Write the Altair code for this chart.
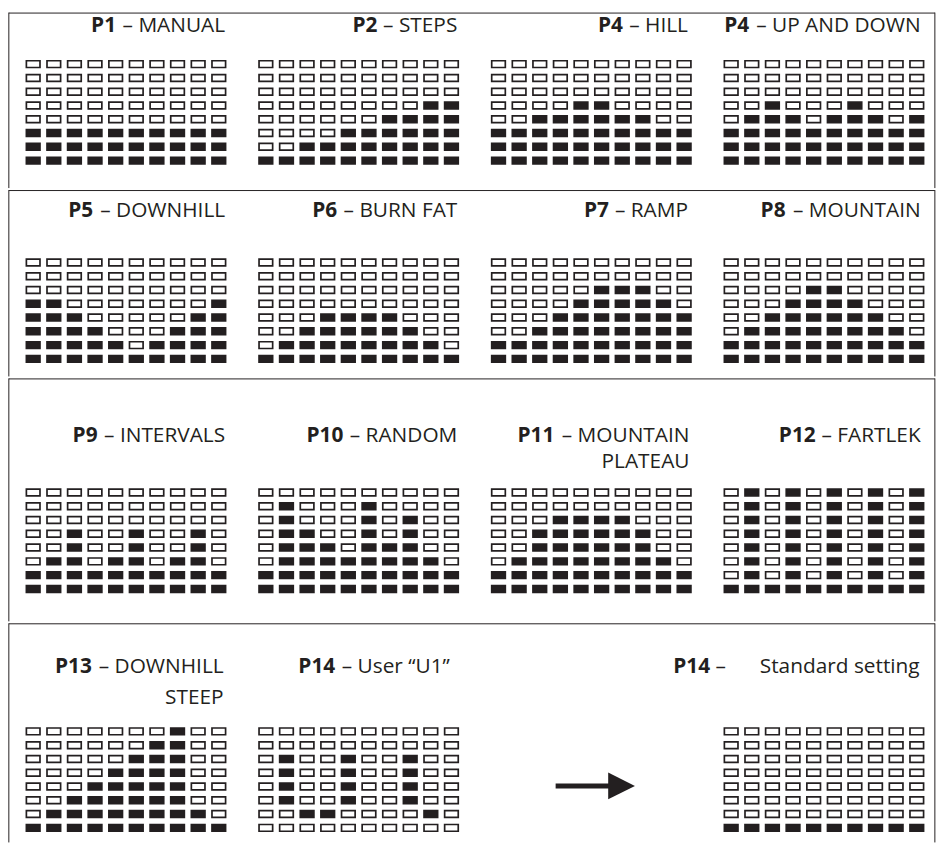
import altair as alt
import pandas as pd

INK = "#231f20"
FONT = "Open Sans"
FS = 21

# ---------------- data: filled cells per column, counted from the bottom ----------------
P1_MANUAL    = [3, 3, 3, 3, 3, 3, 3, 3, 3, 3]
P2_STEPS     = [1, 1, 2, 2, 3, 3, 4, 4, 5, 5]
P4_HILL      = [3, 3, 4, 4, 5, 5, 4, 4, 3, 3]
P4_UPDOWN    = [3, 4, 5, 4, 3, 4, 5, 4, 3, 4]
P5_DOWNHILL  = [5, 5, 4, 3, 2, 1, 2, 3, 4, 5]
P6_BURNFAT   = [1, 2, 3, 4, 4, 4, 4, 3, 2, 1]
P7_RAMP      = [2, 2, 3, 4, 5, 6, 6, 6, 5, 4]
P8_MOUNTAIN  = [2, 3, 4, 5, 6, 6, 5, 4, 3, 2]
P9_INTERVALS = [2, 3, 5, 2, 3, 5, 2, 3, 5, 2]
P10_RANDOM   = [2, 7, 5, 4, 3, 7, 4, 6, 3, 2]
P11_PLATEAU  = [2, 3, 5, 6, 6, 6, 6, 5, 3, 2]
P12_FARTLEK  = [1, 8, 1, 8, 1, 8, 1, 8, 1, 8]
P13_STEEP    = [1, 2, 3, 4, 5, 6, 7, 8, 2, 1]
P14_STANDARD = [1, 1, 1, 1, 1, 1, 1, 1, 1, 1]
# user profile drawn row by row (top -> bottom), 1 = filled
P14_USER_ROWS = [
    "0000000000",
    "0000000000",
    "0100100100",
    "0100100100",
    "0100100100",
    "0100100100",
    "0011000010",
    "0000000000",
]

PANELS = [
    [dict(code="P1", name="– MANUAL", heights=P1_MANUAL),
     dict(code="P2", name="– STEPS", heights=P2_STEPS),
     dict(code="P4", name="– HILL", heights=P4_HILL),
     dict(code="P4", name="– UP AND DOWN", heights=P4_UPDOWN)],
    [dict(code="P5", name="– DOWNHILL", heights=P5_DOWNHILL),
     dict(code="P6", name="– BURN FAT", heights=P6_BURNFAT),
     dict(code="P7", name="– RAMP", heights=P7_RAMP),
     dict(code="P8", name="– MOUNTAIN", heights=P8_MOUNTAIN)],
    [dict(code="P9", name="– INTERVALS", heights=P9_INTERVALS),
     dict(code="P10", name="– RANDOM", heights=P10_RANDOM),
     dict(code="P11", name="– MOUNTAIN", line2="PLATEAU", heights=P11_PLATEAU),
     dict(code="P12", name="– FARTLEK", heights=P12_FARTLEK)],
    [dict(code="P13", name="– DOWNHILL", line2="STEEP", heights=P13_STEEP),
     dict(code="P14", name="– User “U1”", rows=P14_USER_ROWS),
     dict(arrow=True),
     dict(code="P14", dash="–", name="Standard setting", heights=P14_STANDARD)],
]

# ---------------- layout ----------------
PANEL_W = 208
COL_GAP = 26.67
ORIGIN_X = 22.65                      # page x of the first panel
ROW_TOPS = [8, 185, 373, 618, 839]    # page y of row boundaries
FIRST_ROW_CENTER = [60, 258, 488, 727]
PITCH_Y = 13.9
TITLE_BASE = [[19.5], [27.5], [64.5, 90.5], [50, 81]]
TITLE_RIGHT = [[204, 203.5, 201.5, 201.5],
               [204, 203.5, 201.5, 201.5],
               [204, 203.5, 203, 201.5],
               [202.5, 196, 0, 200.5]]

W = {' ': 0.26, '–': 0.5, '“': 0.36, '”': 0.36,
     'A': 0.633, 'B': 0.648, 'C': 0.631, 'D': 0.729, 'E': 0.556, 'F': 0.516,
     'G': 0.728, 'H': 0.754, 'I': 0.30, 'K': 0.613, 'L': 0.524, 'M': 0.912,
     'N': 0.771, 'O': 0.781, 'P': 0.604, 'R': 0.626, 'S': 0.549, 'T': 0.553,
     'U': 0.745, 'V': 0.594, 'W': 0.93, 'a': 0.561, 'd': 0.613, 'e': 0.561,
     'g': 0.548, 'i': 0.253, 'n': 0.614, 'r': 0.408, 's': 0.477, 't': 0.351,
     '1': 0.572}


def text_w(s):
    return sum(W.get(ch, 0.56) for ch in s) * FS


ONE = pd.DataFrame({"k": [0]})


def label(txt, x, y, bold=False):
    return alt.Chart(pd.DataFrame({"t": [txt]})).mark_text(
        align="right", baseline="alphabetic", font=FONT, fontSize=FS,
        fontWeight="bold" if bold else "normal", color=INK
    ).encode(x=alt.value(x), y=alt.value(y), text="t:N")


def cells_frame(p):
    recs = []
    for r in range(1, 9):
        for c in range(1, 11):
            if "rows" in p:
                on = p["rows"][r - 1][c - 1] == "1"
            else:
                on = (9 - r) <= p["heights"][c - 1]
            recs.append({"col": c, "row": r, "state": "on" if on else "off"})
    return pd.DataFrame(recs)


def grid_layer(df, d0, d1):
    return alt.Chart(df).transform_calculate(
        xa="datum.col - 0.33", xb="datum.col + 0.33",
        ya="datum.row - 0.245", yb="datum.row + 0.245",
    ).mark_rect(stroke=INK, strokeWidth=1.7).encode(
        x=alt.X("xa:Q", scale=alt.Scale(domain=[0.5, 10.5], nice=False, zero=False), axis=None),
        x2="xb:Q",
        y=alt.Y("ya:Q", scale=alt.Scale(domain=[d0, d1], nice=False, zero=False, reverse=True), axis=None),
        y2="yb:Q",
        fill=alt.Fill("state:N", scale=alt.Scale(domain=["on", "off"], range=[INK, "#ffffff"]), legend=None),
    )


rows = []
for ri, row in enumerate(PANELS):
    H = ROW_TOPS[ri + 1] - ROW_TOPS[ri]
    c1 = FIRST_ROW_CENTER[ri] - ROW_TOPS[ri]
    d0 = 1 - c1 / PITCH_Y
    d1 = d0 + H / PITCH_Y
    charts = []
    for ci, p in enumerate(row):
        layers = []
        if p.get("arrow"):
            ay = 782 - ROW_TOPS[ri]
            x0 = 560 - (ORIGIN_X + ci * (PANEL_W + COL_GAP))
            layers.append(alt.Chart(ONE).mark_rule(color=INK, strokeWidth=5).encode(
                x=alt.value(x0), x2=alt.value(x0 + 56), y=alt.value(ay)))
            layers.append(alt.Chart(ONE).mark_point(
                shape="M-1,-1L1,0L-1,1Z", filled=True, size=729, color=INK, opacity=1
            ).encode(x=alt.value(x0 + 66.5), y=alt.value(ay)))
        else:
            layers.append(grid_layer(cells_frame(p), d0, d1))
            R = TITLE_RIGHT[ri][ci]
            base = TITLE_BASE[ri][0]
            layers.append(label(p["name"], R, base))
            if "dash" in p:
                xd = R - text_w(p["name"]) - 34
                layers.append(label(p["dash"], xd, base))
                layers.append(label(p["code"], xd - text_w(p["dash"]) - text_w(" "), base, bold=True))
            else:
                layers.append(label(p["code"], R - text_w(p["name"]) - text_w(" "), base, bold=True))
            if "line2" in p:
                layers.append(label(p["line2"], R, TITLE_BASE[ri][1]))
        if ci == 0:
            L = 8.5 - ORIGIN_X
            RR = 942.5 - ORIGIN_X
            layers.append(alt.Chart(ONE).mark_rule(color=INK, strokeWidth=1).encode(
                x=alt.value(L), x2=alt.value(RR), y=alt.value(0.5)))
            layers.append(alt.Chart(ONE).mark_rule(color=INK, strokeWidth=1).encode(
                x=alt.value(L), y=alt.value(0), y2=alt.value(H)))
            layers.append(alt.Chart(ONE).mark_rule(color=INK, strokeWidth=1).encode(
                x=alt.value(RR), y=alt.value(0), y2=alt.value(H)))
        charts.append(alt.layer(*layers).properties(width=PANEL_W, height=H))
    rows.append(alt.hconcat(*charts, spacing=COL_GAP, bounds="flush"))

chart = alt.vconcat(*rows, spacing=0).properties(
    padding=0, background="#ffffff"
).configure_view(stroke=None)

chart.save("out.html", embed_options={"renderer": "svg", "actions": False})
